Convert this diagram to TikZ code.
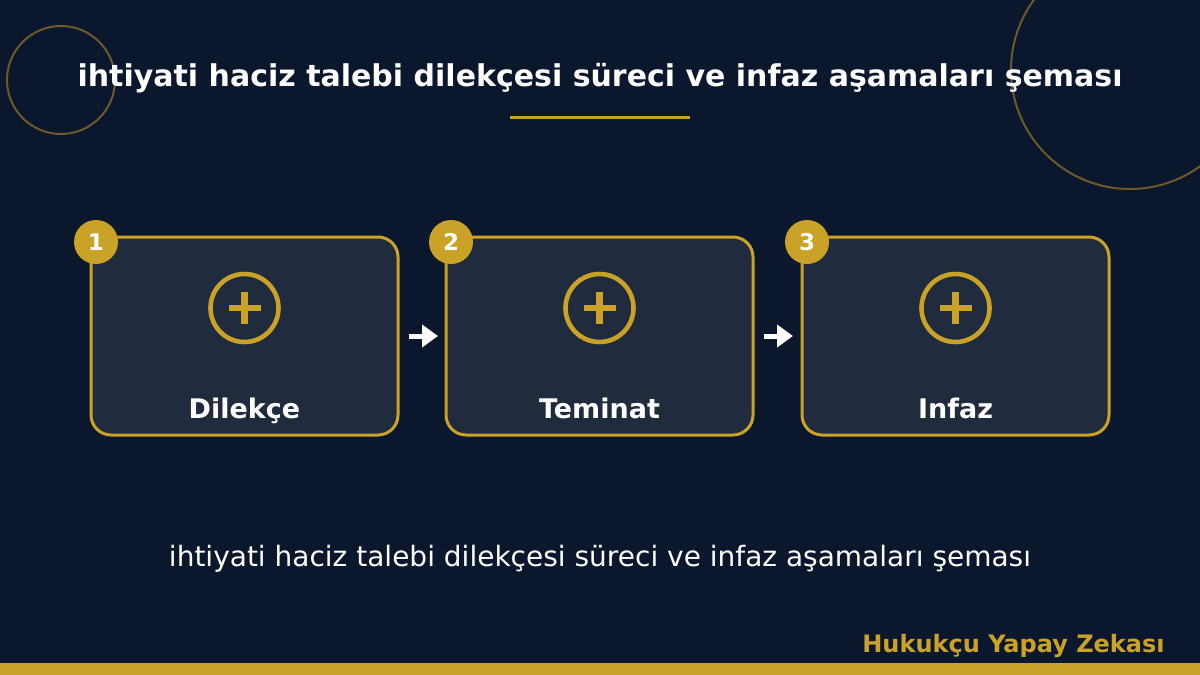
\documentclass[tikz,border=0pt]{standalone}
\usepackage{fontspec}
\setmainfont{DejaVu Sans}
\definecolor{bg}{HTML}{0B172D}
\definecolor{gold}{HTML}{C9A227}
\definecolor{dimgold}{HTML}{6B5A2A}
\definecolor{card}{HTML}{212B3E}
\tikzset{
  cardbox/.style={draw=gold, line width=1.5pt, fill=card, rounded corners=10pt},
  badge/.style={circle, fill=gold, minimum size=22pt, inner sep=0pt, text=white, font=\bfseries\fontsize{11.5}{13}\selectfont},
  icon/.style={circle, draw=gold, line width=2.3pt, minimum size=34pt, inner sep=0pt},
  lbl/.style={text=white, anchor=base, inner sep=0pt, font=\bfseries\fontsize{13.5}{16}\selectfont},
  flow/.style={white, line width=2.5pt, -{Triangle[length=8pt,width=11pt]}},
}
\usetikzlibrary{arrows.meta}
\begin{document}
\begin{tikzpicture}[x=0.5pt,y=-0.5pt]
\fill[bg] (0,0) rectangle (1200,675);
\useasboundingbox (0,0) rectangle (1200,675);
\draw[dimgold, line width=1pt] (61,80) circle[radius=54];
\draw[dimgold, line width=1pt] (1130,70) circle[radius=119];
\node[text=white, anchor=base, inner sep=0pt, font=\bfseries\fontsize{15}{18}\selectfont] (title) at (600,86) {ihtiyati haciz talebi dilekçesi süreci ve infaz aşamaları şeması};
\draw[gold, line width=1.5pt] (510,117) -- (690,117);
\foreach \i/\x/\t in {1/91/Dilekçe,2/446/Teminat,3/802/Infaz}{
  \draw[cardbox] (\x,237) rectangle ++(307,198);
  \node[icon] (ic\i) at (\x+153.5,308) {};
  \draw[gold, line width=3.2pt] (\x+137.5,308) -- (\x+169.5,308) (\x+153.5,292) -- (\x+153.5,324);
  \node[lbl] (l\i) at (\x+153.5,418) {\t};
  \node[badge] (b\i) at (\x+5,242) {\i};
}
\coordinate (a1s) at (409,336); \coordinate (a1e) at (438,336);
\coordinate (a2s) at (764,336); \coordinate (a2e) at (793,336);
\draw[flow] (a1s) -- (a1e);
\draw[flow] (a2s) -- (a2e);
\node[text=white, anchor=base, inner sep=0pt, font=\fontsize{14}{17}\selectfont] (sub) at (600,566) {ihtiyati haciz talebi dilekçesi süreci ve infaz aşamaları şeması};
\node[text=gold, font=\bfseries\fontsize{12}{14}\selectfont, anchor=base east, inner sep=0pt] (foot) at (1165,652) {Hukukçu Yapay Zekası};
\fill[gold] (0,663) rectangle (1200,675);
\end{tikzpicture}
\end{document}
